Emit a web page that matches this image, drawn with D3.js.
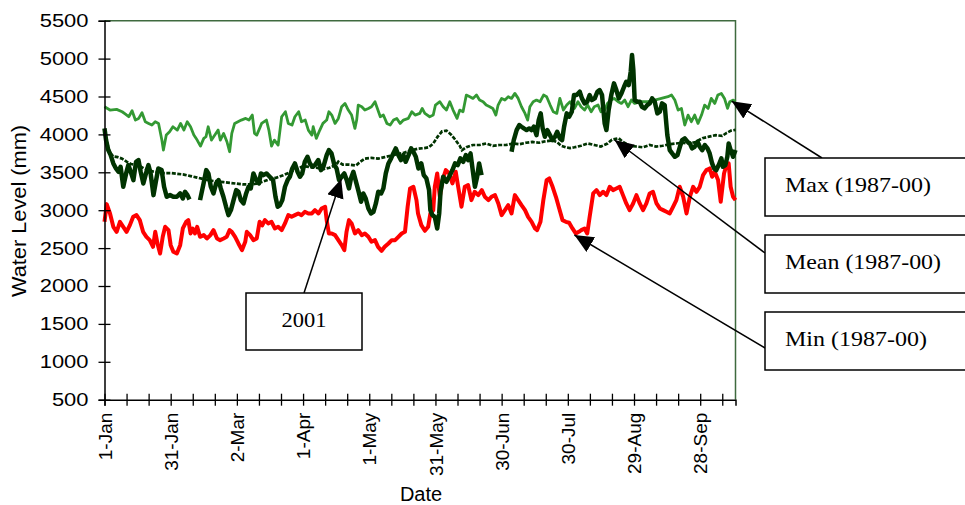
<!DOCTYPE html>
<html>
<head>
<meta charset="utf-8">
<script src="https://cdn.jsdelivr.net/npm/d3@7"></script>
<style>
  body { margin: 0; background: #fff; }
  text { font-family: "Liberation Sans", Arial, sans-serif; }
  .note text { font-family: "Liberation Serif", "Times New Roman", serif; }
</style>
</head>
<body>
<svg width="965" height="505"></svg>
<script>
// day index 0 = 1 Jan 2001
const tickDays = [0, 30, 60, 90, 120, 150, 180, 210, 240, 270];
const tickLabels = ['1-Jan', '31-Jan', '2-Mar', '1-Apr', '1-May', '31-May', '30-Jun', '30-Jul', '29-Aug', '28-Sep'];
const yTicks = [500, 1000, 1500, 2000, 2500, 3000, 3500, 4000, 4500, 5000, 5500];

// [day, water level mm]
const maxLevel = [[0,4365],[2.5,4321],[5.5,4330],[8,4299],[9.5,4268],[11,4233],[12.5,4312],[14,4189],[15.5,4211],[17,4286],[18.5,4167],[20,4145],[21.5,4123],[23,4167],[24.5,4145],[26,3925],[26.7,3793],[28,3991],[29.5,4035],[31,4101],[33,4057],[34.5,4145],[36,4057],[37.5,4167],[39,4101],[40.5,3991],[42,3925],[43.5,3846],[45,3947],[46,3969],[47,4101],[48.5,3925],[50,3991],[51.5,4057],[52.5,3925],[54,4013],[55.5,3903],[56.7,3771],[57.7,4013],[59,4145],[60.5,4167],[62,4189],[64,4211],[65.5,4189],[67,4255],[68,4013],[69,3991],[70.3,4079],[71.2,4145],[73.4,4189],[74.5,4057],[75.7,3846],[77,3925],[78.7,3859],[80.3,4233],[82,4299],[83.3,4145],[85,4123],[86.3,4233],[88,4299],[89.3,4167],[91,4189],[92.4,4057],[94,3991],[94.6,4101],[96,3947],[97.6,4057],[99,4145],[100.7,4189],[101.7,4299],[103,4255],[104.5,4145],[106,4211],[107.5,4365],[109,4409],[110.5,4321],[112,4255],[113.5,4079],[114.3,4189],[115,4387],[116.6,4365],[118,4321],[119.6,4343],[121,4365],[122.6,4431],[123.4,4365],[125,4233],[126.4,4255],[128,4145],[129.5,4123],[131,4189],[132.5,4211],[134,4145],[135.5,4189],[137.7,4211],[139.3,4299],[140.8,4255],[142.9,4277],[144,4343],[145.2,4277],[147.4,4233],[149,4255],[150,4387],[152,4431],[153.5,4365],[155,4321],[156.5,4431],[158,4321],[159.8,4211],[161,4321],[162.5,4299],[164,4519],[165.6,4497],[167,4475],[168.6,4519],[170,4453],[171.6,4431],[173,4387],[174.6,4365],[176,4343],[177.4,4255],[178.4,4387],[180,4475],[181.5,4453],[183,4497],[184.5,4475],[186,4541],[187.5,4475],[189,4365],[190.6,4277],[191.8,4189],[192.8,4365],[194.3,4431],[195.8,4453],[197.4,4431],[199,4519],[200.4,4497],[202,4387],[203.4,4299],[205,4277],[206.4,4475],[208,4321],[209.5,4387],[211,4431],[213,4343],[214.6,4431],[216,4365],[217.6,4321],[219,4387],[220.6,4299],[222,4365],[223.7,4387],[225,4299],[226.7,4321],[228,4409],[229.7,4453],[231,4475],[232.8,4431],[234.3,4409],[235.8,4453],[237.3,4365],[238.8,4453],[240.3,4409],[243.3,4431],[246.4,4431],[249.4,4453],[252.4,4475],[255.4,4497],[257,4519],[258.5,4453],[260,4321],[261.5,4343],[263,4123],[264.5,4255],[266,4167],[267.5,4255],[269,4145],[270.6,4255],[272,4387],[273.6,4343],[275,4475],[276.6,4409],[278,4519],[279.6,4541],[281,4475],[282.4,4343],[283.4,4431],[285,4453],[286,4431]];

const meanLevel = [[0,4030],[1,3900],[2,3800],[3,3740],[4,3710],[6,3700],[8,3680],[10,3640],[12,3610],[14,3600],[16,3580],[18,3550],[20,3530],[22,3510],[24,3500],[27,3490],[30,3490],[33,3480],[36,3470],[39,3450],[42,3430],[45,3410],[48,3390],[51,3380],[54,3370],[57,3360],[60,3350],[63,3340],[66,3340],[69,3350],[72,3380],[75,3410],[78,3430],[81,3460],[84,3500],[87,3540],[90,3580],[93,3570],[96,3560],[99,3540],[102,3560],[105,3600],[106,3640],[108,3600],[111,3600],[114,3590],[116,3640],[118,3680],[121,3690],[124,3680],[127,3700],[130,3720],[133,3740],[136,3760],[139,3790],[142,3810],[145,3820],[147,3830],[149,3880],[151,3970],[153,4040],[155,4050],[157,4000],[159,3930],[161,3850],[162,3790],[164,3830],[167,3860],[170,3860],[173,3880],[176,3850],[179,3860],[182,3860],[185,3880],[188,3870],[191,3890],[194,3900],[197,3890],[200,3910],[203,3920],[205,3900],[207,3850],[209,3830],[211,3820],[213,3830],[216,3850],[219,3880],[222,3860],[225,3840],[228,3880],[230,3930],[233,3950],[235,3900],[238,3850],[241,3840],[244,3830],[247,3860],[250,3840],[253,3850],[256,3870],[259,3880],[262,3890],[265,3880],[268,3900],[271,3950],[274,3970],[277,3990],[280,3980],[282,4020],[284,4050],[286,4060]];

const minLevel = [[0,2847],[1,3080],[2.5,2957],[4,2781],[5.5,2715],[7,2847],[8.5,2781],[10,2715],[11.5,2803],[13,2913],[14.5,2935],[16,2869],[17.5,2715],[19,2649],[20.5,2605],[22,2517],[23,2715],[24,2561],[25.2,2429],[26.4,2649],[27.5,2781],[29,2737],[30,2539],[31.2,2451],[32.8,2429],[34.3,2539],[35.5,2759],[37,2847],[38,2869],[39,2693],[40,2759],[41,2693],[42,2781],[43.3,2649],[45,2671],[46.4,2627],[48,2671],[49.4,2737],[51,2627],[52.4,2605],[54,2627],[55.4,2649],[56.7,2737],[57.7,2715],[59.2,2649],[60.7,2561],[62.3,2473],[63.8,2583],[64.5,2715],[66,2671],[67.5,2605],[69,2627],[70.3,2847],[71.5,2800],[72.7,2869],[74.2,2825],[75.7,2847],[77.2,2759],[78.7,2781],[80.3,2737],[81.8,2825],[83.3,2935],[84.8,2913],[86.3,2935],[87.8,2957],[89.3,2935],[90.8,2979],[92.4,2957],[94,2957],[95.4,3001],[97,2957],[98.4,3023],[100,3045],[100.7,2869],[101.7,2693],[103,2693],[104.5,2671],[106,2605],[107.5,2539],[108.7,2473],[109.7,2715],[110.8,2869],[112,2825],[113.5,2693],[115,2737],[116.6,2671],[118,2693],[119.6,2649],[121,2583],[122.6,2605],[124,2517],[125.6,2464],[127,2517],[128.7,2561],[130.2,2605],[131.7,2605],[133.2,2649],[134.7,2693],[136.2,2715],[137.4,3045],[138.5,3287],[140,3309],[141.4,3133],[142.1,2957],[143.6,2803],[145.2,2728],[146.7,2781],[147.7,2957],[149,3001],[149.7,3309],[150.8,3485],[152,3177],[153.2,3397],[154.7,3529],[156.2,3485],[157.7,3353],[159.2,3507],[160.3,3309],[161.8,3045],[163.3,3309],[164.8,3331],[166.3,3133],[167.8,3243],[169.4,3199],[171,3265],[172.4,3177],[174,3133],[175.4,3177],[177,3199],[178.5,3089],[180,2935],[181.5,3001],[183,3067],[184.5,2957],[186,3199],[187.5,3133],[189,3067],[190.6,3001],[192,2913],[193.6,2847],[195.1,2759],[196.1,2737],[197.6,2847],[198.9,3133],[200.4,3397],[201.6,3419],[203.1,3309],[204.6,3177],[206.1,3023],[207.6,2869],[209.1,2847],[210.6,2834],[212.1,2759],[213.6,2693],[215,2715],[216.1,2737],[217.6,2759],[218.8,2693],[219.9,2913],[221.5,3221],[223,3265],[224.5,3199],[226,3243],[227.5,3199],[229,3309],[230.5,3265],[232,3287],[233.5,3309],[235,3199],[236.5,3089],[238,3001],[239.6,3089],[241.1,3199],[242.6,3089],[244.1,3001],[245.6,3089],[247.1,3221],[248.6,3243],[250.2,3089],[251.7,3023],[253.2,3001],[254.7,2979],[256.2,2957],[257.7,3045],[259.2,3133],[260.7,3309],[262.3,3177],[263.8,2957],[265.3,3177],[266.8,3309],[268.3,3243],[269.8,3309],[271.3,3463],[272.8,3529],[274.3,3551],[275.4,3441],[276.6,3507],[278.1,3397],[279.3,3111],[280.8,3485],[281.9,3595],[282.9,3617],[283.8,3309],[284.9,3177],[286,3133]];

// 2001 record, null = missing readings
const level2001 = [[0,4079],[0.7,3925],[1.7,3793],[2.8,3727],[4,3617],[5.2,3551],[6.3,3507],[7.3,3573],[8.5,3309],[9.8,3485],[10.8,3595],[11.9,3507],[13.1,3397],[14.3,3639],[15.4,3661],[16.4,3507],[17.6,3353],[18.8,3485],[19.9,3595],[20.9,3485],[22.2,3199],[23.4,3397],[24.4,3551],[25.9,3529],[27,3309],[28.2,3177],[29.7,3199],[31.2,3177],[32.8,3177],[34.3,3221],[35.5,3155],[36.5,3243],[37.6,3199],[38.5,3142],
  null,
  [43.3,3133],[44.9,3353],[46.1,3529],[47.1,3485],[48.2,3309],[49.4,3221],[50.6,3353],[51.7,3397],[52.7,3287],[53.9,3177],[55.1,3045],[56.2,2935],[57.3,3001],[58.5,3133],[59.7,3265],[60.7,3243],[61.8,3133],[63,3089],[64.2,3221],[65.3,3309],[66.3,3287],[67.5,3485],[68.8,3397],[70,3353],[70.9,3485],[72,3463],[73.4,3485],[74.9,3441],[76.4,3397],[77.5,3177],[78.5,3045],[79.5,3067],[80.6,3133],[81.8,3309],[83,3397],[84,3441],[85.1,3551],[86.3,3617],[87.5,3507],[88.6,3441],[89.6,3485],[90.8,3639],[92,3705],[93.1,3617],[94.2,3573],[95.4,3595],[96.9,3661],[98.1,3529],[99.2,3573],[100.7,3727],[101.7,3793],[102.9,3749],[104.2,3595],[105.2,3551],[106.3,3397],[107.5,3441],[108.7,3485],[109.8,3397],[110.8,3287],[111.7,3419],[112.8,3507],[113.8,3397],[115,3265],[116.3,3111],[117.3,3221],[118.4,3155],[119.6,3023],[120.8,2957],[121.9,2979],[123,3089],[124.1,3243],[125.4,3221],[126.4,3287],[127.5,3485],[128.7,3617],[129.9,3683],[130.9,3749],[132,3815],[133.2,3727],[134.4,3661],[135.5,3727],[136.5,3639],[137.8,3727],[139,3815],[140,3771],[141.1,3705],[142.3,3551],[143.6,3617],[144.7,3463],[145.9,3419],[147.1,3265],[147.7,3001],[148.6,2935],[149.7,2913],[150.8,2759],[151.7,2957],[152.3,3243],[153.5,3441],[155,3375],[156.2,3441],[157.7,3529],[158.9,3617],[160.1,3595],[161.3,3683],[162.6,3639],[163.8,3727],[164.8,3661],[165.9,3749],[167.1,3485],[167.9,3309],[168.9,3441],[169.8,3617],[170.9,3463],
  null,
  [184.5,3771],[185.5,3925],[186.8,4057],[188,4123],[189,4101],[190.1,4079],[191.3,4057],[192.5,4079],[193.6,4057],[194.6,4101],[195.8,3991],[196.8,4189],[197.7,4277],[198.6,4079],[199.6,3969],[200.7,4057],[201.9,3991],[203.1,3925],[204.2,3969],[205.2,4035],[206.4,3947],[207.4,3925],[208.3,4101],[209.5,4277],[210.6,4233],[211.8,4299],[212.8,4519],[214,4520],[215.4,4563],[216.4,4475],[217.6,4409],[218.8,4431],[219.9,4519],[220.9,4453],[222.2,4475],[223.4,4563],[224.4,4585],[225.5,4519],[226.7,4145],[227.5,4057],[228.5,4321],[229.7,4519],[230.9,4673],[232,4585],[233.1,4475],[234.3,4541],[235.5,4629],[236.5,4695],[237.6,4651],[238.5,4827],[239.1,5047],[239.7,4849],[240.3,4453],[241.5,4431],[242.6,4431],[243.6,4365],[244.8,4343],[246,4387],[247.1,4409],[248.2,4475],[249.4,4431],[250.6,4277],[251.7,4299],[252.7,4409],[253.9,4387],[255.1,3991],[256.2,3793],[257.3,3749],[258.5,3705],[259.7,3727],[260.8,3837],[261.8,3925],[263,3947],[264.2,3903],[265.3,3881],[266.3,3815],[267.5,3837],[268.8,3903],[269.8,3837],[270.9,3793],[272.1,3859],[273.3,3815],[274.3,3749],[275.4,3617],[276.3,3551],[277.3,3529],[278.4,3595],[279.6,3683],[280.3,3573],[281.4,3595],[282.3,3705],[282.9,3881],[283.8,3793],[284.9,3705],[286,3793]];

const svg = d3.select('svg');

const x = d3.scaleLinear().domain([0, 286]).range([104.5, 735.5]);
const y = d3.scaleLinear().domain([500, 5500]).range([399.7, 20.7]);

const line = d3.line()
  .defined(d => d !== null)
  .x(d => x(d[0]))
  .y(d => y(d[1]));

// plot frame (top and right edges)
svg.append('path')
  .attr('d', `M${x(0)},${y(5500)}H${x(286)}V${y(500)}`)
  .attr('fill', 'none')
  .attr('stroke', '#3f6a3f')
  .attr('stroke-width', 1.5);

// series
svg.append('path').datum(maxLevel).attr('d', line)
  .attr('fill', 'none').attr('stroke', '#339933').attr('stroke-width', 2.8)
  .attr('stroke-linejoin', 'round');
svg.append('path').datum(minLevel).attr('d', line)
  .attr('fill', 'none').attr('stroke', '#ff0000').attr('stroke-width', 4)
  .attr('stroke-linejoin', 'round');
svg.append('path').datum(meanLevel).attr('d', line)
  .attr('fill', 'none').attr('stroke', '#003300').attr('stroke-width', 2.7)
  .attr('stroke-dasharray', '4,1.5');
svg.append('path').datum(level2001).attr('d', line)
  .attr('fill', 'none').attr('stroke', '#003300').attr('stroke-width', 4.5)
  .attr('stroke-linejoin', 'round');

// y axis
const yAxis = svg.append('g')
  .attr('transform', `translate(${x(0)},0)`)
  .call(d3.axisLeft(y).tickValues(yTicks).tickSize(6).tickPadding(10).tickFormat(d3.format('d')));
yAxis.select('.domain').attr('stroke', '#000').attr('stroke-width', 1.5);
yAxis.selectAll('.tick line').attr('x1', 6).attr('stroke-width', 1.3);
yAxis.selectAll('.tick text')
  .attr('font-size', 18.5)
  .attr('fill', '#000')
  .attr('textLength', d => String(d).length * 12.2)
  .attr('lengthAdjust', 'spacingAndGlyphs');

// x axis
const xAxis = svg.append('g')
  .attr('transform', `translate(0,${y(500)})`)
  .call(d3.axisBottom(x)
    .tickValues(d3.range(0, 281, 10))
    .tickSize(6)
    .tickFormat(d => {
      const i = tickDays.indexOf(d);
      return i >= 0 ? tickLabels[i] : '';
    }));
xAxis.select('.domain').attr('stroke', '#000').attr('stroke-width', 1.5);
xAxis.selectAll('.tick line').attr('y1', -6).attr('stroke-width', 1.3);
xAxis.selectAll('.tick text')
  .attr('font-size', 19)
  .attr('fill', '#000')
  .attr('text-anchor', 'end')
  .attr('transform', 'rotate(-90)')
  .attr('x', -13)
  .attr('y', 0)
  .attr('dy', '0.35em');

// axis titles
svg.append('text')
  .attr('transform', 'translate(26,211) rotate(-90)')
  .attr('text-anchor', 'middle')
  .attr('font-size', 20)
  .attr('textLength', 172)
  .attr('lengthAdjust', 'spacingAndGlyphs')
  .text('Water Level (mm)');
svg.append('text')
  .attr('x', 421).attr('y', 501)
  .attr('text-anchor', 'middle')
  .attr('font-size', 20)
  .text('Date');

// callouts
const defs = svg.append('defs');
defs.append('marker')
  .attr('id', 'tip')
  .attr('markerUnits', 'userSpaceOnUse')
  .attr('markerWidth', 20).attr('markerHeight', 18)
  .attr('refX', 19).attr('refY', 8.5)
  .attr('orient', 'auto')
  .append('path')
  .attr('d', 'M0,0L19,8.5L0,17Z')
  .attr('fill', '#000');

const notes = svg.append('g').attr('class', 'note');

function callout(bx, by, bw, bh, label, tw, anchor, from, to) {
  notes.append('line')
    .attr('x1', from[0]).attr('y1', from[1])
    .attr('x2', x(to[0])).attr('y2', y(to[1]))
    .attr('stroke', '#000').attr('stroke-width', 1.5)
    .attr('marker-end', 'url(#tip)');
  notes.append('rect')
    .attr('x', bx).attr('y', by).attr('width', bw).attr('height', bh)
    .attr('fill', '#fff').attr('stroke', '#000').attr('stroke-width', 1.5);
  notes.append('text')
    .attr('x', anchor === 'middle' ? bx + bw / 2 : bx + 20)
    .attr('y', by + 33.5)
    .attr('text-anchor', anchor)
    .attr('font-size', 21)
    .attr('textLength', tw)
    .attr('lengthAdjust', 'spacingAndGlyphs')
    .text(label);
}

callout(765, 158, 215, 58, 'Max (1987-00)', 146, 'start', [822, 158], [284.3, 4438]);
callout(765, 235, 215, 58, 'Mean (1987-00)', 156, 'start', [765, 253], [231.2, 3926]);
callout(765, 312, 215, 58, 'Min (1987-00)', 142, 'start', [765, 348], [213, 2673]);
callout(246, 293, 116, 57, '2001', 45, 'middle', [304, 293], [107.3, 3413]);
</script>
</body>
</html>
